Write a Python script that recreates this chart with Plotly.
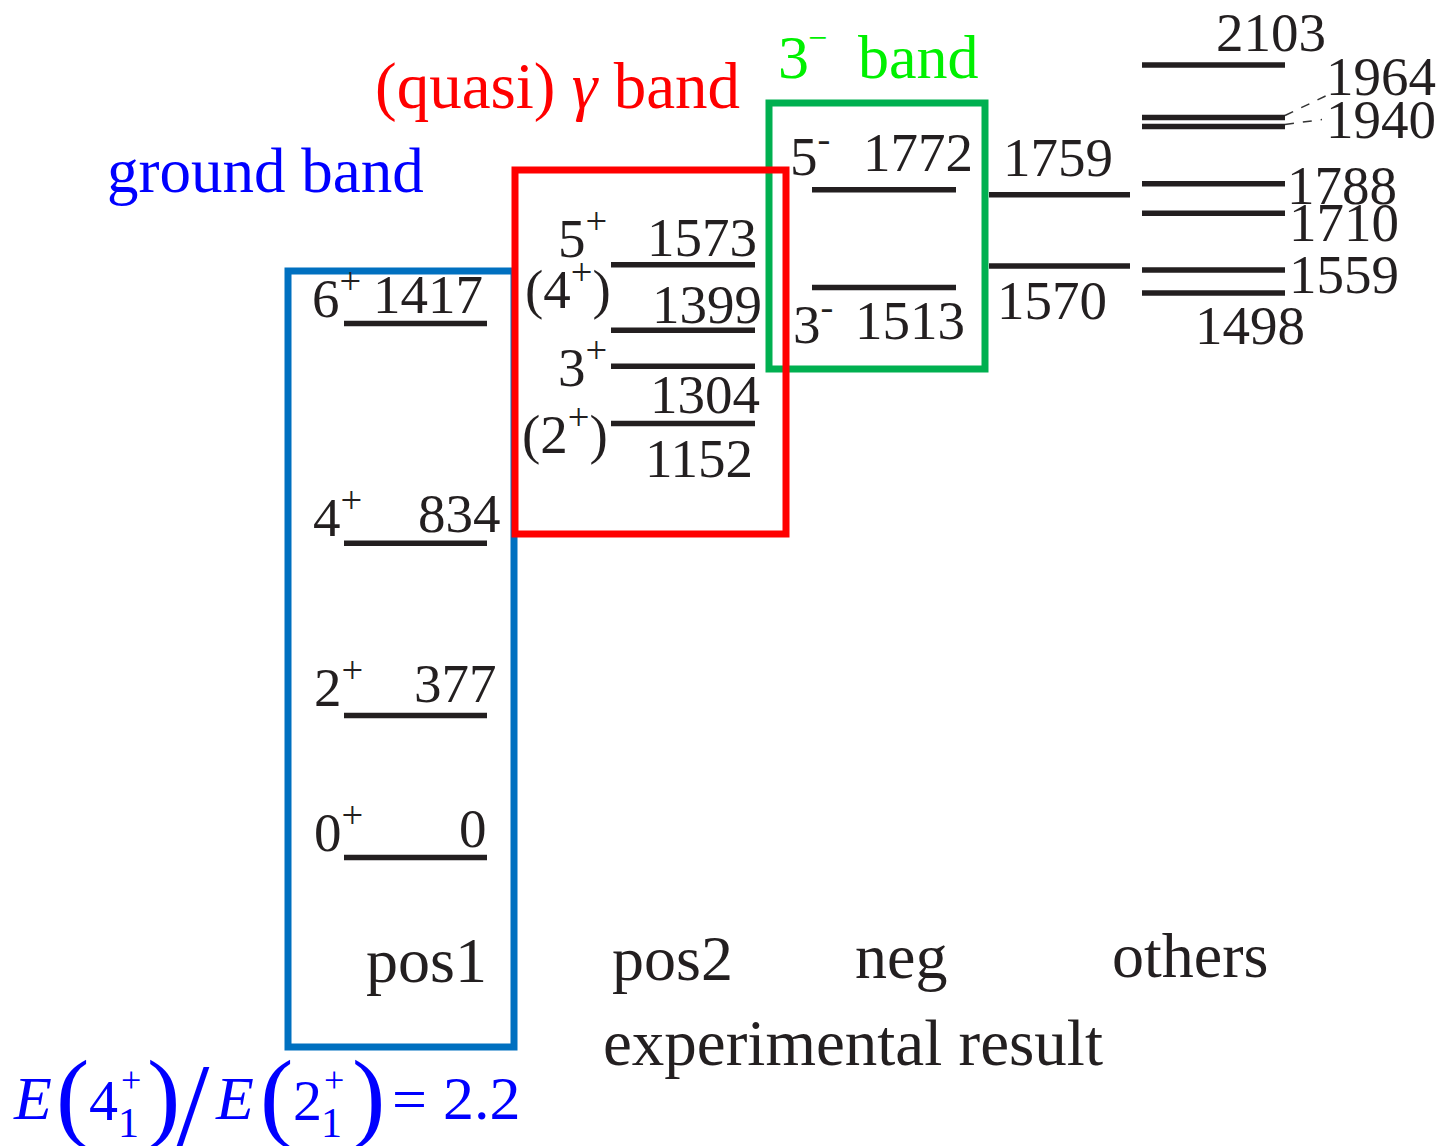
import plotly.graph_objects as go

# ---------------- data ----------------
pos1_spins = ["0<sup>+</sup>", "2<sup>+</sup>", "4<sup>+</sup>", "6<sup>+</sup>"]
pos1_energies = [0, 377, 834, 1417]
pos2_spins = ["(2<sup>+</sup>)", "3<sup>+</sup>", "(4<sup>+</sup>)", "5<sup>+</sup>"]
pos2_energies = [1152, 1304, 1399, 1573]
neg_spins = ["3<sup>-</sup>", "5<sup>-</sup>"]
neg_energies = [1513, 1772]
mid_energies = [1570, 1759]
others_energies = [1498, 1559, 1710, 1788, 1940, 1964, 2103]
column_labels = ["pos1", "pos2", "neg", "others"]
footer_label = "experimental result"
band_titles = ["ground band", "(quasi) <i>γ</i> band", "band"]
ratio_value = "2.2"

# ---------------- geometry / style ----------------
W, H = 1439, 1146
SCALE = 0.3768      # px per keV
ZERO_PX = 857.5     # pixel row of 0 keV


def e_of_px(py):
    return (ZERO_PX - py) / SCALE


Y_TOP = e_of_px(0)
Y_BOT = e_of_px(H)

SERIF = "Liberation Serif"
INK = "#231F20"
LEVEL_W = 5.5
LVL_FS = 55

col_x = {
    "pos1": (344, 487),
    "pos2": (611, 755),
    "neg": (812, 956),
    "mid": (989, 1130),
    "others": (1142, 1285),
}

fig = go.Figure()


def add_levels(energies, key):
    x0, x1 = col_x[key]
    xs, ys = [], []
    for e in energies:
        xs += [x0, x1, None]
        ys += [e, e, None]
    fig.add_trace(go.Scatter(x=xs, y=ys, mode="lines",
                             line=dict(color=INK, width=LEVEL_W),
                             hoverinfo="skip", showlegend=False))


add_levels(pos1_energies, "pos1")
add_levels(pos2_energies, "pos2")
add_levels(neg_energies, "neg")
add_levels(mid_energies, "mid")
add_levels(others_energies, "others")

annotations = []


def lvl_label(text, x, e, shift, xanchor, size=LVL_FS, color=INK):
    annotations.append(dict(text=text, x=x, y=e, xref="x", yref="y",
                            yshift=shift, xanchor=xanchor, yanchor="middle",
                            showarrow=False,
                            font=dict(family=SERIF, size=size, color=color)))


def px_label(text, x, py, size, color=INK, xanchor="center", family=SERIF):
    annotations.append(dict(text=text, x=x, y=1 - py / H, xref="x", yref="paper",
                            xanchor=xanchor, yanchor="middle", showarrow=False,
                            font=dict(family=family, size=size, color=color)))


# pos1 labels: (spin left x, energy right x, shift)
pos1_pos = [(312, 489, 29), (312, 499, 32), (311, 503, 30), (310, 485, 29)]
for s, e, (xs, xe, sh) in zip(pos1_spins, pos1_energies, pos1_pos):
    lvl_label(s, xs, e, sh, "left")
    lvl_label(str(e), xe, e, sh, "right")

# pos2 labels: (spin left x, spin shift, energy right x, energy shift)
pos2_pos = [(520, -7, 755, -35), (556, 3, 762, -28), (523, 45, 764, 26), (556, 30, 759, 27)]
for s, e, (xs, ss, xe, se) in zip(pos2_spins, pos2_energies, pos2_pos):
    lvl_label(s, xs, e, ss, "left")
    lvl_label(str(e), xe, e, se, "right")

# neg labels
neg_pos = [(791, 967, -33), (788, 975, 37)]
for s, e, (xs, xe, sh) in zip(neg_spins, neg_energies, neg_pos):
    lvl_label(s, xs, e, sh, "left")
    lvl_label(str(e), xe, e, sh, "right")

# middle column labels
mid_pos = [(1052, -35), (1058, 37)]
for e, (xc, sh) in zip(mid_energies, mid_pos):
    lvl_label(str(e), xc, e, sh, "center")

# others labels: (x, anchor, shift)
others_pos = [(1250, "center", -32), (1287, "left", -4), (1287, "left", -9),
              (1285, "left", -2), (1324, "left", 7), (1324, "left", 41),
              (1271, "center", 33)]
for e, (x, anc, sh) in zip(others_energies, others_pos):
    lvl_label(str(e), x, e, sh, anc)

# dashed leader lines for 1964 / 1940
shapes = []
e1964, e1940 = others_energies[5], others_energies[4]
shapes.append(dict(type="line", xref="x", yref="y", x0=1285, x1=1331,
                   y0=e1964 + 2 / SCALE, y1=e1964 + 24 / SCALE,
                   line=dict(color="#333333", width=1.5, dash="dash")))
shapes.append(dict(type="line", xref="x", yref="y", x0=1285, x1=1322,
                   y0=e1940 + 2 / SCALE, y1=e1940 + 7 / SCALE,
                   line=dict(color="#333333", width=1.5, dash="dash")))


# band boxes (pixel rectangles)
def box(x0, x1, py0, py1, color):
    shapes.append(dict(type="rect", xref="x", yref="y", x0=x0, x1=x1,
                       y0=e_of_px(py1), y1=e_of_px(py0),
                       line=dict(color=color, width=7), fillcolor="rgba(0,0,0,0)"))


box(288, 514, 271, 1047, "#0070C0")
box(769, 985, 103, 369, "#00B050")
box(515, 786, 170, 534, "#FF0000")

# band titles
px_label(band_titles[0], 265, 171, 63, "#0000FF")
px_label(band_titles[1], 557, 86, 65, "#FF0000")
px_label("3", 793, 57, 62, "#00F000")
px_label("−", 817, 37, 34, "#00F000")
px_label(band_titles[2], 918, 57, 62, "#00F000")

# column labels
col_label_pos = [(426, 960), (672, 958), (901, 956), (1190, 955)]
for t, (x, py) in zip(column_labels, col_label_pos):
    px_label(t, x, py, 64)
px_label(footer_label, 853, 1043, 65)

# ratio formula E(4_1^+)/E(2_1^+) = 2.2
BL = "#0000FF"
px_label("<i>E</i>", 11, 1098, 62, BL, "left")
px_label("(", 72, 1095, 100, BL)
px_label("4", 103, 1100, 58, BL)
px_label("+", 131, 1080, 36, BL)
px_label("1", 128, 1123, 42, BL)
px_label(")", 163, 1095, 100, BL)
px_label("/", 193, 1106, 120, BL)
px_label("<i>E</i>", 213, 1098, 62, BL, "left")
px_label("(", 276, 1095, 100, BL)
px_label("2", 307, 1100, 58, BL)
px_label("+", 334, 1080, 36, BL)
px_label("1", 331, 1123, 42, BL)
px_label(")", 368, 1095, 100, BL)
px_label("=", 409, 1099, 62, BL)
px_label(ratio_value, 482, 1098, 62, BL)

fig.update_layout(
    width=W, height=H,
    margin=dict(l=0, r=0, t=0, b=0),
    paper_bgcolor="white", plot_bgcolor="white",
    xaxis=dict(range=[0, W], visible=False, fixedrange=True),
    yaxis=dict(range=[Y_BOT, Y_TOP], visible=False, fixedrange=True),
    showlegend=False,
    annotations=annotations,
    shapes=shapes,
)

fig.write_html("out.html")
